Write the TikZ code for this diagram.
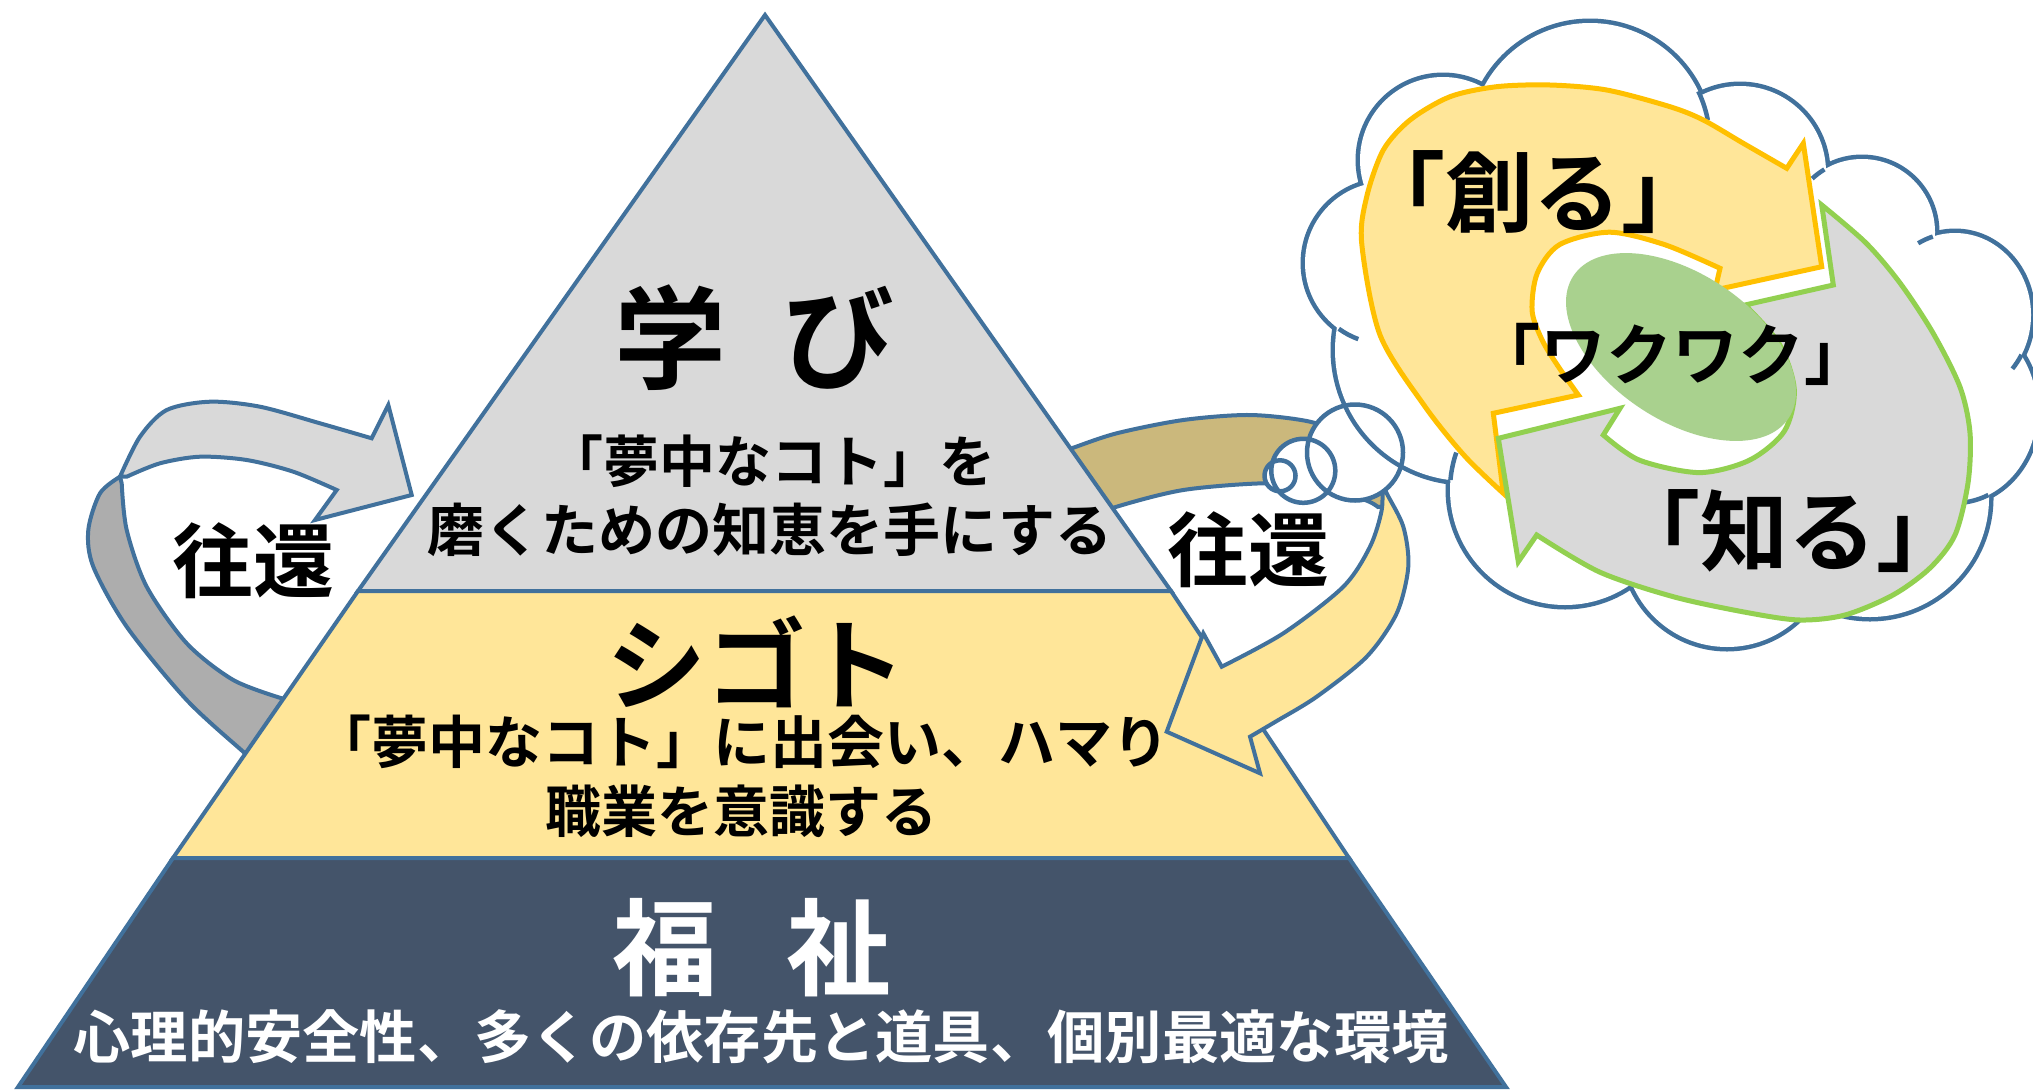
\documentclass[tikz,border=0pt]{standalone}
\usepackage{fontspec}
\newfontfamily\jp{Noto Sans CJK JP}[BoldFont={Noto Sans CJK JP Bold}]
\newcommand\jpsize[1]{\fontsize{#1}{#1}\selectfont}
\definecolor{edgeblue}{HTML}{41719C}
\definecolor{grayface}{HTML}{D9D9D9}
\definecolor{grayback}{HTML}{ADADAD}
\definecolor{paleyellow}{HTML}{FFE699}
\definecolor{tanback}{HTML}{CBB87C}
\definecolor{navyband}{HTML}{44546A}
\definecolor{arroworange}{HTML}{FFC000}
\definecolor{arrowgreen}{HTML}{92D050}
\definecolor{ellipsegreen}{HTML}{A9D18E}

\tikzset{
  outline/.style={draw=edgeblue, line width=4pt},
  cloudedge/.style={draw=edgeblue, line width=4.5pt},
  jt/.style={inner sep=0pt, font=\jp\bfseries\jpsize{#1}},
}

% bumps of the thought cloud
\newcommand\cloudbumps{%
  (1443,160) circle[radius=83]
  (1590,143) circle[radius=120]
  (1740,172) circle[radius=86]
  (1862,232) circle[radius=73]
  (1955,315) ellipse[x radius=76, y radius=82]
  (1955,410) ellipse[x radius=82, y radius=93]
  (1870,498) circle[radius=119]
  (1727,544) circle[radius=103]
  (1565,490) circle[radius=115]
  (1466,350) circle[radius=131]
  (1386,263) circle[radius=81]}
\newcommand\bubbles{%
  (1280,475.8) circle[radius=15.5]
  (1303.3,470.8) circle[radius=32]
  (1355,452.5) circle[radius=48]}

\begin{document}
\begin{tikzpicture}[x=1pt,y=-1pt]
\clip (0,0) rectangle (2033,1090);
\fill[white] (0,0) rectangle (2033,1090);

% ---- left curved arrow (back face, then front face)
\path[fill=grayback, outline]
  plot[smooth] coordinates {(120,476.7) (100,493.3) (88.3,530) (93.3,566.7) (126.7,626.7) (186.7,700) (245,753.3) (262,768)}
  -- (302,707)
  -- plot[smooth] coordinates {(281.7,698.3) (233.3,680) (186.7,643.3) (146.7,586.7) (126.7,530) (121.7,483.3)} -- cycle;
\path[fill=grayface, outline]
  plot[smooth] coordinates {(120,476.7) (140,436.7) (166.7,410) (210,401.7) (260,406.7) (320,423.3) (371.7,438.3)}
  -- (388.3,405) -- (411.7,495) -- (315,520) -- (336.7,490)
  -- plot[smooth] coordinates {(336.7,490) (293.3,471.7) (246.7,460) (200,456.7) (160,463.3) (126.7,476.7)} -- cycle;

% ---- right curved arrow, back face
\path[fill=tanback, outline]
  plot[smooth] coordinates {(1040,460) (1071.7,448.3) (1116.7,433.3) (1183.3,420) (1250,415) (1310,421.7) (1348,437) (1375,465)}
  -- (1386,506)
  -- plot[smooth] coordinates {(1378,507) (1365,500) (1320,487) (1263.3,483.3) (1183.3,490) (1116.7,506.7) (1085,520)} -- cycle;

% ---- pyramid
\path[fill=grayface, outline] (765,15) -- (1171,591) -- (358,591) -- cycle;
\path[fill=paleyellow, outline] (358,591) -- (1171,591) -- (1349,858) -- (173,858) -- cycle;
\path[fill=navyband, outline] (173,858) -- (1349,858) -- (1506,1087) -- (18,1087) -- cycle;

% ---- right curved arrow, front face
\path[fill=paleyellow, outline]
  plot[smooth] coordinates {(1376,470) (1386.7,493.3) (1403.3,526.7) (1408.3,566.7) (1396.7,613.3) (1366.7,656.7) (1316.7,696.7) (1275,722) (1250,736.7)}
  -- (1260,773.3) -- (1166.7,731.7) -- (1203.3,633.3) -- (1221.7,666.7)
  -- plot[smooth] coordinates {(1221.7,666.7) (1283.3,633.3) (1343.3,586.7) (1370,546.7) (1381.7,510) (1382,482)} -- cycle;

% ---- thought cloud with its bubbles
\fill[white] \bubbles;
\path[draw=edgeblue, line width=9pt] \cloudbumps;
\fill[white] \cloudbumps;
\fill[white] (1680,360) ellipse[x radius=250, y radius=200];
\begin{scope}[cloudedge]
  \draw (1386,263) ++(125.7:81) arc[start angle=125.7, end angle=110, radius=81];
  \draw (1590,143) ++(-25.5:120) arc[start angle=-25.5, end angle=-11, radius=120];
  \draw (1862,232) ++(239:73) arc[start angle=239, end angle=227, radius=73];
  \draw (1955,315) ++(253:76 and 82) arc[start angle=253, end angle=241, x radius=76, y radius=82];
  \draw (1955,315) ++(29:76 and 82) arc[start angle=29, end angle=41, x radius=76, y radius=82];
  \draw (1955,410) ++(66:82 and 93) arc[start angle=66, end angle=84, x radius=82, y radius=93];
  \draw (1565,490) ++(185:115) arc[start angle=185, end angle=199, radius=115];
\end{scope}
\draw[cloudedge] \bubbles;

% ---- cycle inside the cloud
\path[fill=paleyellow, draw=arroworange, line width=5pt]
  plot[smooth] coordinates {(1503.3,493.3) (1464.7,456) (1424.8,406.3) (1380,335) (1361.7,243.3) (1366.7,196.7) (1383.3,150) (1410,120) (1450,96.7) (1496.7,86.7) (1550,85) (1606.7,90) (1670,106.7) (1703.3,120) (1743.3,143.3) (1786.7,168.3)}
  -- (1803.3,143.3) -- (1821.7,266.7) -- (1715,290) -- (1720,268.3)
  -- plot[smooth] coordinates {(1720,268.3) (1664.5,244.6) (1609.5,232.2) (1559.6,244.6) (1537.1,273.6) (1532.1,311) (1542.1,340) (1557.1,364.8) (1578.3,395)}
  -- (1493.3,413.3) -- cycle;
\path[fill=grayface, draw=arrowgreen, line width=5pt]
  (1498.3,438.3) -- (1518.3,561.7) -- (1536.7,535)
  -- plot[smooth] coordinates {(1536.7,535) (1599.5,572) (1674.4,597) (1749.4,613) (1800,620) (1845,615) (1893,595) (1930,568) (1955,535) (1968,483) (1970,433) (1960,387) (1933,333) (1900,283) (1866,243) (1821.7,205)}
  -- (1833.3,285) -- (1745,305)
  -- plot[smooth] coordinates {(1745,305) (1779.3,344) (1794.3,389.7) (1784.3,431.2) (1749.4,460.2) (1699.4,472.6) (1639.5,460.2) (1603.3,435)}
  -- (1620,408.3) -- cycle;
\fill[ellipsegreen, rotate around={-33.5:(1681,347)}] (1681,347) ellipse[x radius=129, y radius=73.5];

% ---- texts
\node[jt=112] (manabi) at (754,338) {学\hspace{0.5em}び};
\node[jt=56] (manabi1) at (771,461) {「夢中なコト」を};
\node[jt=57] (manabi2) at (770,530) {磨くための知恵を手にする};
\node[jt=100] (shigoto) at (756,662) {シゴト};
\node[jt=57] (shigoto1) at (742,742) {「夢中なコト」に出会い、ハマり};
\node[jt=56] (shigoto2) at (741,811) {職業を意識する};
\node[jt=105, text=white] (fukushi) at (752,948) {福\hspace{0.65em}祉};
\node[jt=57.3, text=white] (fukushi1) at (761,1037) {心理的安全性、多くの依存先と道具、個別最適な環境};
\node[jt=81] (oukanL) at (253,561) {往還};
\node[jt=81] (oukanR) at (1248,550) {往還};
\node[jt=88] (tsukuru) at (1533,192) {「創る」};
\node[jt=88] (shiru) at (1788,531) {「知る」};
\node[jt=66] (wakuwaku) at (1672,354) {「ワクワク」};
\end{tikzpicture}
\end{document}
